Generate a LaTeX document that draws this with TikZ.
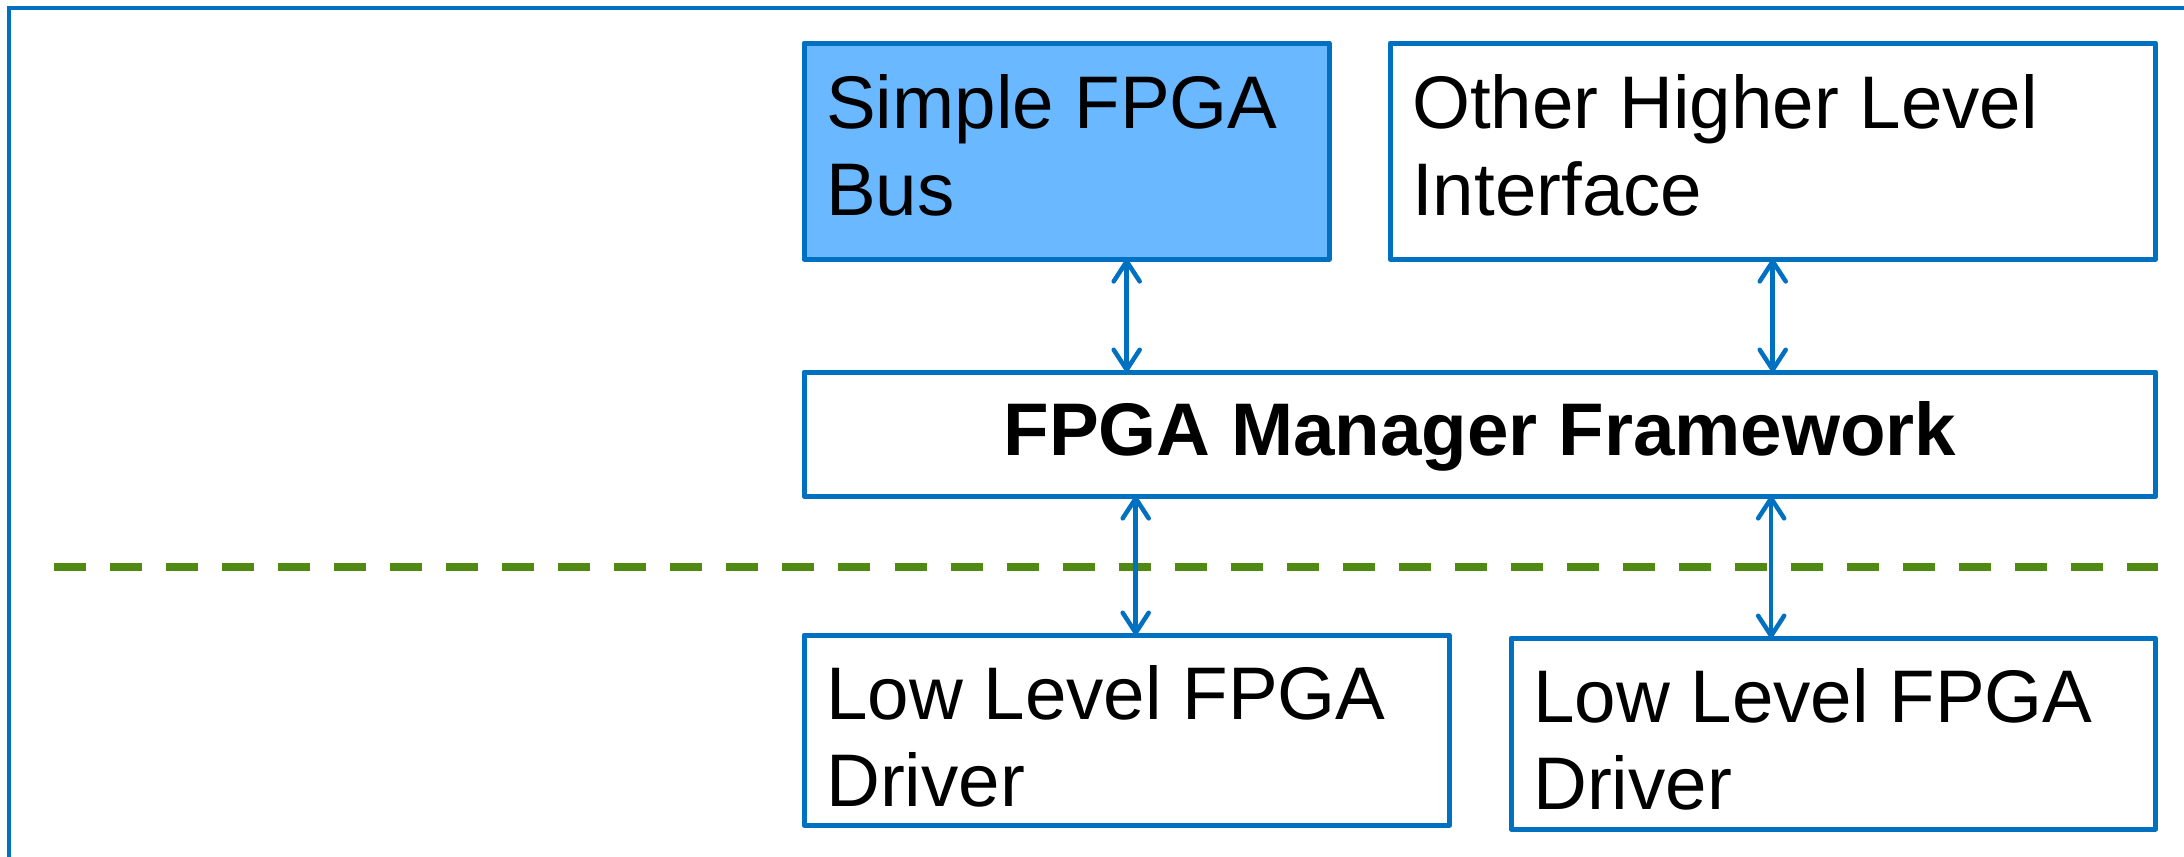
\documentclass[tikz,border=0pt]{standalone}
\usepackage{fontspec}
\setmainfont{Liberation Sans}
\usetikzlibrary{arrows.meta}
\definecolor{boxblue}{RGB}{0,112,192}
\definecolor{busfill}{RGB}{106,184,255}
\definecolor{sepgreen}{RGB}{80,138,18}
\begin{document}
\begin{tikzpicture}[x=0.01cm,y=-0.01cm,
  layerbox/.style={draw=boxblue, line width=0.05cm, line join=round, rectangle,
    inner sep=0pt, outer sep=0pt, anchor=north west},
  boxtext/.style={anchor=base west, inner sep=0pt, font=\fontsize{21.2pt}{25pt}\selectfont},
  titletext/.style={anchor=base, inner sep=0pt, font=\fontsize{21.2pt}{25pt}\selectfont\bfseries},
  link/.style={draw=boxblue, line width=0.045cm,
    {Straight Barb[length=0.2cm,width=0.26cm,round]}-{Straight Barb[length=0.2cm,width=0.26cm,round]}},
  sepline/.style={draw=sepgreen, line width=0.08cm, dash pattern=on 0.32cm off 0.24cm},
  frameline/.style={draw=boxblue, line width=0.045cm}]
\useasboundingbox (0,0) rectangle (2184,856);

% outer frame (open to the right and bottom)
\draw[frameline] (9,870) -- (9,8) -- (2200,8);

% user space / kernel separator
\draw[sepline] (54,567) -- (2158,567);

% layer boxes
\node[layerbox, fill=busfill, minimum width=5.25cm, minimum height=2.16cm] (bus) at (804,43) {};
\node[layerbox, fill=white, minimum width=7.65cm, minimum height=2.16cm] (other) at (1390,43) {};
\node[layerbox, fill=white, minimum width=13.51cm, minimum height=1.24cm] (mgr) at (804,372) {};
\node[layerbox, fill=white, minimum width=6.45cm, minimum height=1.90cm] (lla) at (804,635) {};
\node[layerbox, fill=white, minimum width=6.44cm, minimum height=1.91cm] (llb) at (1511,638) {};

% box labels
\node[boxtext] at ([shift={(0.215cm,-0.85cm)}]bus.north west) {\parbox[t]{8cm}{Simple FPGA\\Bus}};
\node[boxtext] at ([shift={(0.215cm,-0.85cm)}]other.north west) {\parbox[t]{8cm}{Other Higher Level\\Interface}};
\node[titletext] at ([yshift=-0.21cm]mgr.center) {FPGA Manager Framework};
\node[boxtext] at ([shift={(0.215cm,-0.84cm)}]lla.north west) {\parbox[t]{8cm}{Low Level FPGA\\Driver}};
\node[boxtext] at ([shift={(0.215cm,-0.84cm)}]llb.north west) {\parbox[t]{8cm}{Low Level FPGA\\Driver}};

% connectors
\coordinate (busport) at ([xshift=0.6cm]bus.south);
\coordinate (llaport) at ([xshift=0.09cm]lla.north);
\coordinate (llbport) at ([xshift=-0.62cm]llb.north);
\draw[link] (busport) -- (busport |- mgr.north);
\draw[link] (other.south) -- (other.south |- mgr.north);
\draw[link] (llaport |- mgr.south) -- (llaport);
\draw[link] (llbport |- mgr.south) -- (llbport);
\end{tikzpicture}
\end{document}
